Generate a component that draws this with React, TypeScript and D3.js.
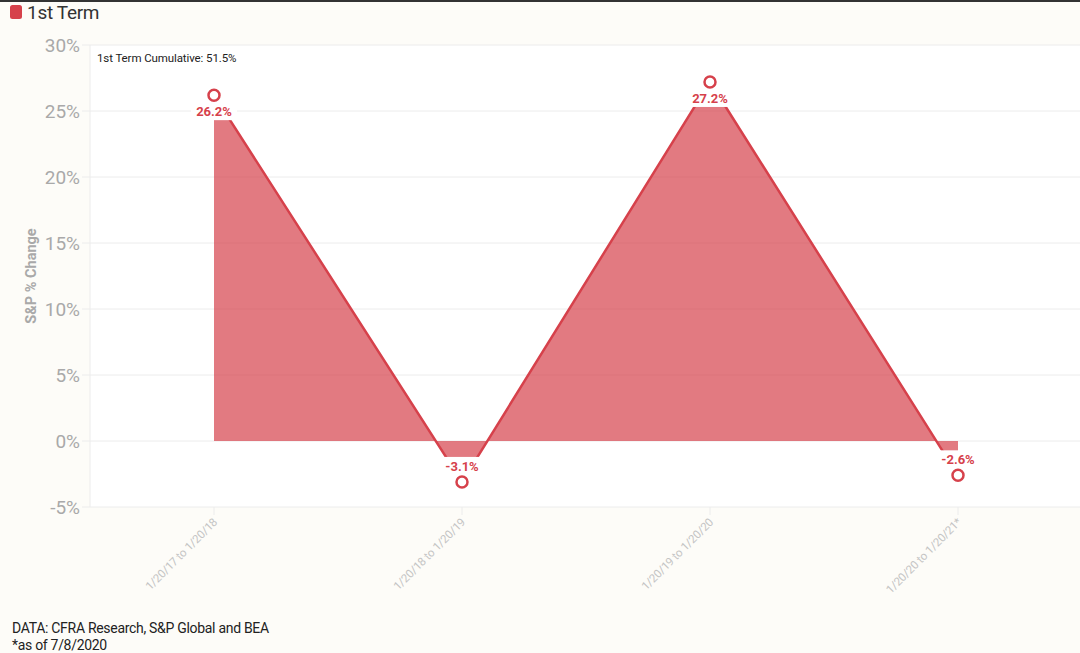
import React, { useRef, useEffect } from 'react'
import * as d3 from 'd3'

const periods = ['1/20/17 to 1/20/18', '1/20/18 to 1/20/19', '1/20/19 to 1/20/20', '1/20/20 to 1/20/21*']
const returns = [26.2, -3.1, 27.2, -2.6]
const yTicks = [-5, 0, 5, 10, 15, 20, 25, 30]
const seriesName = '1st Term'
const cumulativeNote = '1st Term Cumulative: 51.5%'
const sourceLines = ['DATA: CFRA Research, S&P Global and BEA', '*as of 7/8/2020']

const WIDTH = 1080
const HEIGHT = 653
const RED = '#d6414b'
const FONT = 'Roboto, "Noto Sans", sans-serif'

export default function App() {
  const svgRef = useRef<SVGSVGElement>(null)

  useEffect(() => {
    if (!svgRef.current) return
    const svg = d3.select(svgRef.current)
    svg.selectAll('*').remove()

    const left = 90
    const right = 1082
    const top = 45
    const bottom = 507

    // page background + top rule
    svg.append('rect').attr('width', WIDTH).attr('height', HEIGHT).attr('fill', '#fdfcf8')
    svg.append('rect').attr('width', WIDTH).attr('height', 2).attr('fill', '#333')

    const x = d3.scaleBand().domain(periods).range([left, right])
    const cx = (p: string) => (x(p) || 0) + x.bandwidth() / 2
    const y = d3.scaleLinear().domain([-5, 30]).range([bottom, top])

    // plot panel
    svg.append('rect')
      .attr('x', left).attr('y', top)
      .attr('width', right - left).attr('height', bottom - top)
      .attr('fill', '#ffffff')

    // grid
    svg.append('g')
      .selectAll('line')
      .data(yTicks)
      .enter()
      .append('line')
      .attr('x1', left - 8).attr('x2', right)
      .attr('y1', d => y(d)).attr('y2', d => y(d))
      .attr('stroke', '#ececec')
      .attr('stroke-width', 1)

    svg.append('line')
      .attr('x1', left).attr('x2', left)
      .attr('y1', top).attr('y2', bottom)
      .attr('stroke', '#ececec')

    // y tick labels
    svg.append('g')
      .selectAll('text')
      .data(yTicks)
      .enter()
      .append('text')
      .attr('x', 80)
      .attr('y', d => y(d) + 7)
      .attr('text-anchor', 'end')
      .style('font-family', FONT)
      .style('font-size', '19px')
      .style('fill', '#a9a9a9')
      .text(d => `${d}%`)

    // y title
    svg.append('text')
      .attr('transform', `translate(36, ${(top + bottom) / 2}) rotate(-90)`)
      .attr('text-anchor', 'middle')
      .style('font-family', FONT)
      .style('font-size', '14.5px')
      .style('font-weight', '700')
      .style('fill', '#a9a9a9')
      .text('S&P % Change')

    // x ticks + labels
    const xt = svg.append('g')
      .selectAll('g')
      .data(periods)
      .enter()
      .append('g')
      .attr('transform', d => `translate(${cx(d)}, ${bottom})`)
    xt.append('line').attr('y1', 0).attr('y2', 8).attr('stroke', '#ececec')
    xt.append('text')
      .attr('transform', 'translate(4, 16) rotate(-45)')
      .attr('text-anchor', 'end')
      .style('font-family', FONT)
      .style('font-size', '11.5px')
      .style('letter-spacing', '-0.2px')
      .style('fill', '#c4c4c4')
      .text(d => d)

    const pts = periods.map((p, i) => ({ p, v: returns[i] }))

    // area + line
    const area = d3.area<{ p: string; v: number }>()
      .x(d => cx(d.p))
      .y0(y(0))
      .y1(d => y(d.v))
    svg.append('path')
      .datum(pts)
      .attr('d', area)
      .attr('fill', RED)
      .attr('fill-opacity', 0.7)

    const line = d3.line<{ p: string; v: number }>()
      .x(d => cx(d.p))
      .y(d => y(d.v))
    svg.append('path')
      .datum(pts)
      .attr('d', line)
      .attr('fill', 'none')
      .attr('stroke', RED)
      .attr('stroke-width', 2.5)

    // value labels with white backing
    const lab = svg.append('g')
      .selectAll('g')
      .data(pts)
      .enter()
      .append('g')
      .attr('transform', d => `translate(${cx(d.p)}, ${y(d.v) + (d.v >= 0 ? 16 : -16)})`)
    lab.append('rect')
      .attr('x', -23)
      .attr('y', d => (d.v >= 0 ? -12 : -9))
      .attr('width', 46).attr('height', 21)
      .attr('fill', '#ffffff')
    lab.append('text')
      .attr('y', 5)
      .attr('text-anchor', 'middle')
      .style('font-family', FONT)
      .style('font-size', '13px')
      .style('font-weight', '700')
      .style('fill', RED)
      .text(d => `${d.v}%`)

    // markers
    svg.append('g')
      .selectAll('circle')
      .data(pts)
      .enter()
      .append('circle')
      .attr('cx', d => cx(d.p))
      .attr('cy', d => y(d.v))
      .attr('r', 5.5)
      .attr('fill', '#ffffff')
      .attr('stroke', RED)
      .attr('stroke-width', 2.5)

    // annotation
    svg.append('text')
      .attr('x', 97).attr('y', 62)
      .style('font-family', FONT)
      .style('font-size', '11.5px')
      .style('letter-spacing', '-0.1px')
      .style('fill', '#222')
      .text(cumulativeNote)

    // legend
    svg.append('rect')
      .attr('x', 10).attr('y', 5)
      .attr('width', 12).attr('height', 14)
      .attr('rx', 2.5)
      .attr('fill', RED)
    svg.append('text')
      .attr('x', 27).attr('y', 19)
      .style('font-family', FONT)
      .style('font-size', '19px')
      .style('letter-spacing', '-0.3px')
      .style('fill', '#333')
      .text(seriesName)

    // source
    svg.append('g')
      .selectAll('text')
      .data(sourceLines)
      .enter()
      .append('text')
      .attr('x', 12)
      .attr('y', (_d, i) => 633 + i * 17)
      .style('font-family', FONT)
      .style('font-size', '14px')
      .style('letter-spacing', '-0.3px')
      .style('fill', '#222')
      .text(d => d)
  }, [])

  return (
    <div style={{ position: 'fixed', left: 0, top: 0 }}>
      <svg ref={svgRef} width={WIDTH} height={HEIGHT} style={{ display: 'block' }} />
    </div>
  )
}
